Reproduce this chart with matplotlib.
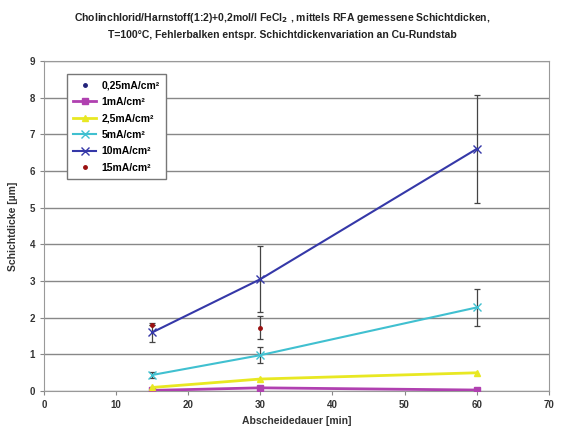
import matplotlib
matplotlib.use("Agg")
import matplotlib.pyplot as plt

plt.rcParams['font.family'] = ['Liberation Sans', 'DejaVu Sans']
plt.rcParams['font.weight'] = 'bold'

x = [15, 30, 60]
labels = ["0,25mA/cm²", "1mA/cm²", "2,5mA/cm²", "5mA/cm²", "10mA/cm²", "15mA/cm²"]
y_025 = []
y_1 = [0.02, 0.09, 0.03]
y_25 = [0.10, 0.33, 0.50]
y_5 = [0.44, 0.98, 2.28]
err_5 = [0.07, 0.22, 0.50]
y_10 = [1.60, 3.05, 6.60]
err_10 = [0.27, 0.90, 1.48]
x_15 = [15, 30]
y_15 = [1.80, 1.73]
err_15 = [0.0, 0.31]

xticks = [0, 10, 20, 30, 40, 50, 60, 70]
yticks = list(range(0, 10))

fig = plt.figure(figsize=(5.64, 4.38), dpi=100)
ax = fig.add_axes([0.078, 0.107, 0.895, 0.754])

eb = dict(fmt='none', ecolor='#444444', elinewidth=0.9, capsize=2.5, capthick=0.9, zorder=2)
ax.errorbar(x, y_5, yerr=err_5, **eb)
ax.errorbar(x, y_10, yerr=err_10, **eb)
ax.errorbar(x_15, y_15, yerr=err_15, **eb)

ax.plot(y_025, y_025, ls='none', marker='o', ms=2.5, color='#22227a', label=labels[0])
ax.plot(x, y_1, color='#b040b0', marker='s', ms=5, lw=2, label=labels[1], zorder=3)
ax.plot(x, y_25, color='#e8e822', marker='^', ms=5, lw=2, label=labels[2], zorder=3)
ax.plot(x, y_5, color='#40c0d0', marker='x', ms=6, lw=1.5, label=labels[3], zorder=3)
ax.plot(x, y_10, color='#3538a8', marker='x', ms=6, lw=1.5, label=labels[4], zorder=3)
ax.plot(x_15, y_15, color='#9a1010', marker='o', ms=2.5, ls='none', label=labels[5], zorder=4)

ax.set_xlim(0, 70)
ax.set_ylim(0, 9)
ax.set_xticks(xticks)
ax.set_yticks(yticks)
ax.yaxis.grid(True, color='#888888', lw=1.0)
ax.set_axisbelow(True)
for s in ax.spines.values():
    s.set_color('#999999')
ax.tick_params(direction='out', length=3, color='#888888', labelsize=7, colors='#333333')
ax.set_xlabel('Abscheidedauer [min]', fontsize=7.5, fontweight='bold', color='#333333')
ax.set_ylabel('Schichtdicke [µm]', fontsize=7.5, fontweight='bold', color='#333333', labelpad=8)

fig.suptitle('Cholinchlorid/Harnstoff(1:2)+0,2mol/l FeCl$_2$ , mittels RFA gemessene Schichtdicken,\nT=100°C, Fehlerbalken entspr. Schichtdickenvariation an Cu-Rundstab',
             fontsize=7.5, fontweight='bold', y=0.975, color='#222222', linespacing=1.6)

leg = ax.legend(loc='upper left', bbox_to_anchor=(0.035, 0.975), fontsize=7.5,
                frameon=True, fancybox=False, edgecolor='#777777', framealpha=1,
                handlelength=2.2, labelspacing=0.62, borderpad=0.6, handletextpad=0.5)
leg.get_frame().set_linewidth(1.0)

fig.savefig('out.png', dpi=100)
